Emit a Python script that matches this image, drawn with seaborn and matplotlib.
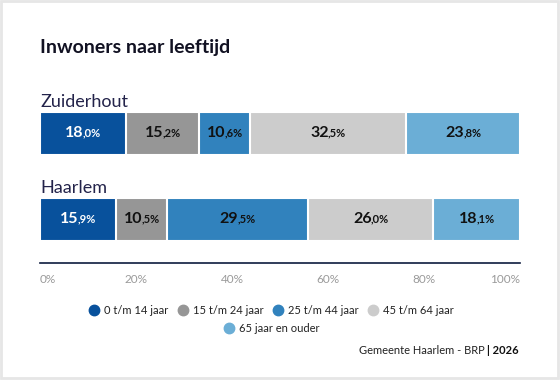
"""Inwoners naar leeftijd - stacked horizontal bars."""

import numpy as np
import pandas as pd
import matplotlib.pyplot as plt
import seaborn as sns
from matplotlib.lines import Line2D
from matplotlib.patches import Rectangle
from matplotlib.offsetbox import TextArea, HPacker, AnnotationBbox

# Data
areas = ['Zuiderhout', 'Haarlem']
age_groups = ['0 t/m 14 jaar', '15 t/m 24 jaar', '25 t/m 44 jaar',
              '45 t/m 64 jaar', '65 jaar en ouder']
zuiderhout = [18.0, 15.2, 10.6, 32.5, 23.8]
haarlem = [15.9, 10.5, 29.5, 26.0, 18.1]
x_ticks = [0, 20, 40, 60, 80, 100]

colors = ['#08519c', '#969696', '#3182bd', '#cccccc', '#6baed6']
label_colors = ['white', '#111111', '#111111', '#111111', '#111111']

sns.set_style('white')
plt.rcParams['font.family'] = ['Lato', 'DejaVu Sans']

# Long table with cumulative ends per segment
rows = []
for area, values in zip(areas, [zuiderhout, haarlem]):
    cum = np.cumsum(values)
    for g, v, c in zip(age_groups, values, cum):
        rows.append({'area': area, 'group': g, 'value': v,
                     'end': min(c, 100.0), 'start': c - v})
df = pd.DataFrame(rows)

W, H = 560, 380
fig = plt.figure(figsize=(W / 100, H / 100), dpi=100)
ax = fig.add_axes([40 / W, 1 - 263 / H, 480 / W, 173 / H])

bar_h = 0.49
# draw cumulative bars from the last group to the first so they stack
for g, col in reversed(list(zip(age_groups, colors))):
    sub = df[df['group'] == g]
    sns.barplot(data=sub, x='end', y='area', order=areas, orient='h',
                color=col, saturation=1, width=bar_h, errorbar=None,
                edgecolor='white', linewidth=1.5, ax=ax)

ax.set_xlim(0, 100)
ax.set_ylim(1.506, -0.506)
ax.set_xlabel('')
ax.set_ylabel('')
ax.set_yticks([])
ax.set_xticks(x_ticks)
ax.set_xticklabels([f'{t}%' for t in x_ticks], color='#9a9a9a', fontsize=8.5)
ticklabels = ax.get_xticklabels()
ticklabels[0].set_ha('left')
ticklabels[-1].set_ha('right')
ax.tick_params(axis='x', length=0, pad=8)
for s in ['top', 'right', 'left']:
    ax.spines[s].set_visible(False)
ax.spines['bottom'].set_color('#0d1b3e')
ax.spines['bottom'].set_linewidth(1.2)

# segment value labels: integer part big, decimals small
for _, r in df.iterrows():
    i = areas.index(r['area'])
    k = age_groups.index(r['group'])
    whole, dec = f"{r['value']:.1f}".split('.')
    tc = label_colors[k]
    big = TextArea(whole, textprops=dict(fontsize=11.5, fontweight='bold', color=tc))
    small = TextArea(f',{dec}%', textprops=dict(fontsize=8, fontweight='bold', color=tc))
    pack = HPacker(children=[big, small], align='baseline', pad=0, sep=-0.8)
    ab = AnnotationBbox(pack, (r['start'] + r['value'] / 2, i), xycoords='data',
                        frameon=False, box_alignment=(0.5, 0.45), pad=0)
    ax.add_artist(ab)

# area names above bars
for i, area in enumerate(areas):
    ax.annotate(area, xy=(0, i - bar_h / 2), xycoords=('axes fraction', 'data'),
                xytext=(0, 1.5), textcoords='offset points', ha='left', va='bottom',
                fontsize=13, fontweight='normal', color='#23234a')

# title
fig.text(40 / W, 1 - 47 / H, 'Inwoners naar leeftijd', ha='left', va='center',
         fontsize=14, fontweight='bold', color='#111122')

# legend in two centred rows
handles = [Line2D([], [], marker='o', ls='', markersize=7.5,
                  markerfacecolor=c, markeredgecolor=c) for c in colors]
leg_kw = dict(loc='center', frameon=False, handletextpad=0.5,
              columnspacing=0.9, handlelength=0.8, fontsize=8,
              labelcolor='#222222', borderaxespad=0, borderpad=0)
fig.legend(handles[:4], age_groups[:4], ncol=4,
           bbox_to_anchor=(272 / W, 1 - 310 / H), **leg_kw)
fig.legend(handles[4:], age_groups[4:], ncol=1,
           bbox_to_anchor=(272 / W, 1 - 328 / H), **leg_kw)

# source line
src = HPacker(children=[
    TextArea('Gemeente Haarlem - BRP ', textprops=dict(fontsize=8, color='#222222')),
    TextArea('| 2026', textprops=dict(fontsize=8, fontweight='bold', color='#111111')),
], align='baseline', pad=0, sep=0)
fig.add_artist(AnnotationBbox(src, (519 / W, 1 - 351 / H), xycoords='figure fraction',
                              frameon=False, box_alignment=(1, 0.5), pad=0))

# light frame around the card
fig.patches.append(Rectangle((1 / W, 2 / H), 557 / W, 377 / H, transform=fig.transFigure,
                             fill=False, edgecolor='#e6e6e6', linewidth=2))

fig.savefig('out.png', dpi=100)
